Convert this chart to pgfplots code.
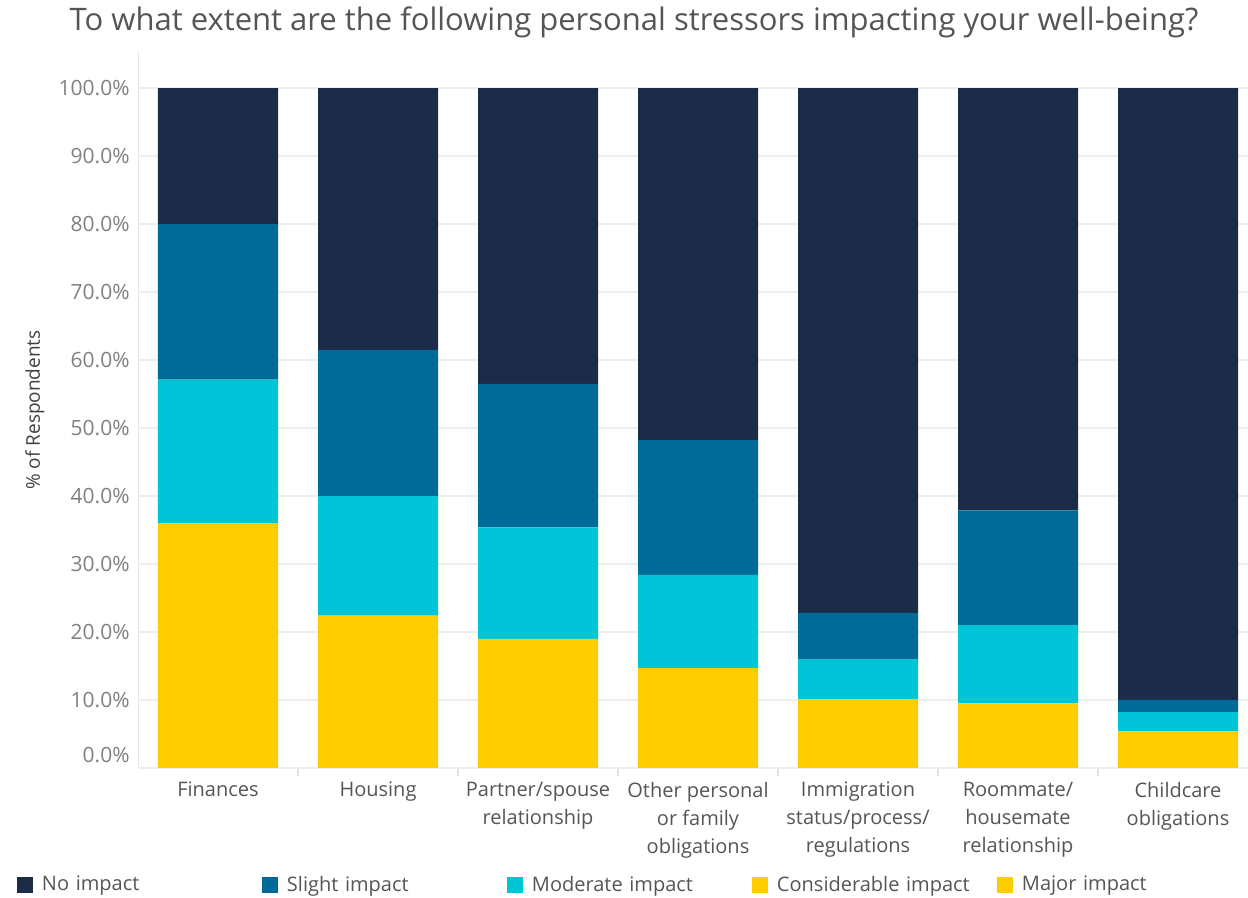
\documentclass[border=0pt]{standalone}
\usepackage{fontspec}
\setmainfont{Open Sans}
\usepackage{pgfplots}
\usepackage{pgfplotstable}
\pgfplotsset{compat=1.18}

\definecolor{cNone}{HTML}{1B2B48}
\definecolor{cSlight}{HTML}{006A99}
\definecolor{cMod}{HTML}{00C5D8}
\definecolor{cCons}{HTML}{FFCC00}
\definecolor{cMajor}{HTML}{FFCC00}
\definecolor{gridc}{HTML}{EEEEEE}
\definecolor{ticktext}{HTML}{808080}
\definecolor{labtext}{HTML}{555555}

% segments in %, bottom to top (yellow share shown as one block)
\pgfplotstableread{
x major cons mod slight none
0 0 36.0 21.1 22.9 20.0
1 0 22.4 17.6 21.5 38.5
2 0 19.0 16.4 21.1 43.5
3 0 14.7 13.7 19.8 51.8
4 0 10.1  5.9  6.8 77.2
5 0  9.5 11.5 16.9 62.1
6 0  5.4  2.8  1.8 90.0
}\stress

\begin{document}
\begin{tikzpicture}
\useasboundingbox (0,0) rectangle (624pt,449pt);
\begin{axis}[
  at={(69pt,65pt)}, anchor=south west,
  scale only axis, width=555pt, height=358pt,
  xmin=-0.5, xmax=6.4375, ymin=0, ymax=105.3,
  ybar stacked, bar width=0.75,
  axis x line*=bottom, axis y line*=left,
  axis line style={draw=black!10, -},
  major tick length=0pt,
  ymajorgrids, grid style={draw=gridc, line width=0.6pt},
  xtick={0,...,6},
  xticklabels={Finances, Housing, {Partner/spouse\\relationship},
    {Other personal\\or family\\obligations},
    {Immigration\\status/process/\\regulations},
    {Roommate/\\housemate\\relationship},
    {Childcare\\obligations}},
  xticklabel style={align=center, font=\fontsize{10}{14}\selectfont,
    text=labtext, yshift=-3.5pt},
  extra x ticks={0.5,1.5,2.5,3.5,4.5,5.5},
  extra x tick labels={},
  extra x tick style={major tick length=4pt, tick align=outside,
    tick style={draw=black!12, line width=0.6pt}},
  ytick={10,20,...,100},
  yticklabels={10.0\%,20.0\%,30.0\%,40.0\%,50.0\%,60.0\%,70.0\%,80.0\%,90.0\%,100.0\%},
  extra y ticks={0}, extra y tick labels={0.0\%},
  extra y tick style={tick label style={yshift=6.5pt}},
  yticklabel style={font=\fontsize{10.5}{12}\selectfont, text=ticktext,
    inner sep=0pt, xshift=-4pt},
  ylabel={\% of Respondents},
  every axis y label/.style={at={([xshift=-51.5pt]axis description cs:0,0.5)},
    rotate=90, anchor=center, font=\fontsize{9.5}{12}\selectfont, text=black!75},
  reverse legend,
  legend columns=5,
  legend cell align=left,
  legend image code/.code={\fill[#1] (0pt,-4pt) rectangle (8pt,4pt);},
  legend style={at={([xshift=-60.5pt,yshift=-58.5pt]axis description cs:0,0)},
    anchor=west, draw=none, fill=none, inner sep=0pt, outer sep=0pt,
    nodes={inner sep=0pt, text width=110pt, align=left,
      font=\fontsize{10}{12}\selectfont, text=labtext},
    /tikz/every odd column/.append style={column sep=4.5pt}},
]
\addplot[fill=cMajor, draw=none] table[x=x, y=major] {\stress};
\addplot[fill=cCons, draw=none] table[x=x, y=cons] {\stress};
\addplot[fill=cMod, draw=none] table[x=x, y=mod] {\stress};
\addplot[fill=cSlight, draw=none] table[x=x, y=slight] {\stress};
\addplot[fill=cNone, draw=none] table[x=x, y=none] {\stress};
\legend{Major impact, Considerable impact, Moderate impact, Slight impact, No impact}
\end{axis}
\node[font=\fontsize{15.5}{18}\selectfont, text=labtext] at (317pt,438pt)
  {To what extent are the following personal stressors impacting your well-being?};
\end{tikzpicture}
\end{document}
